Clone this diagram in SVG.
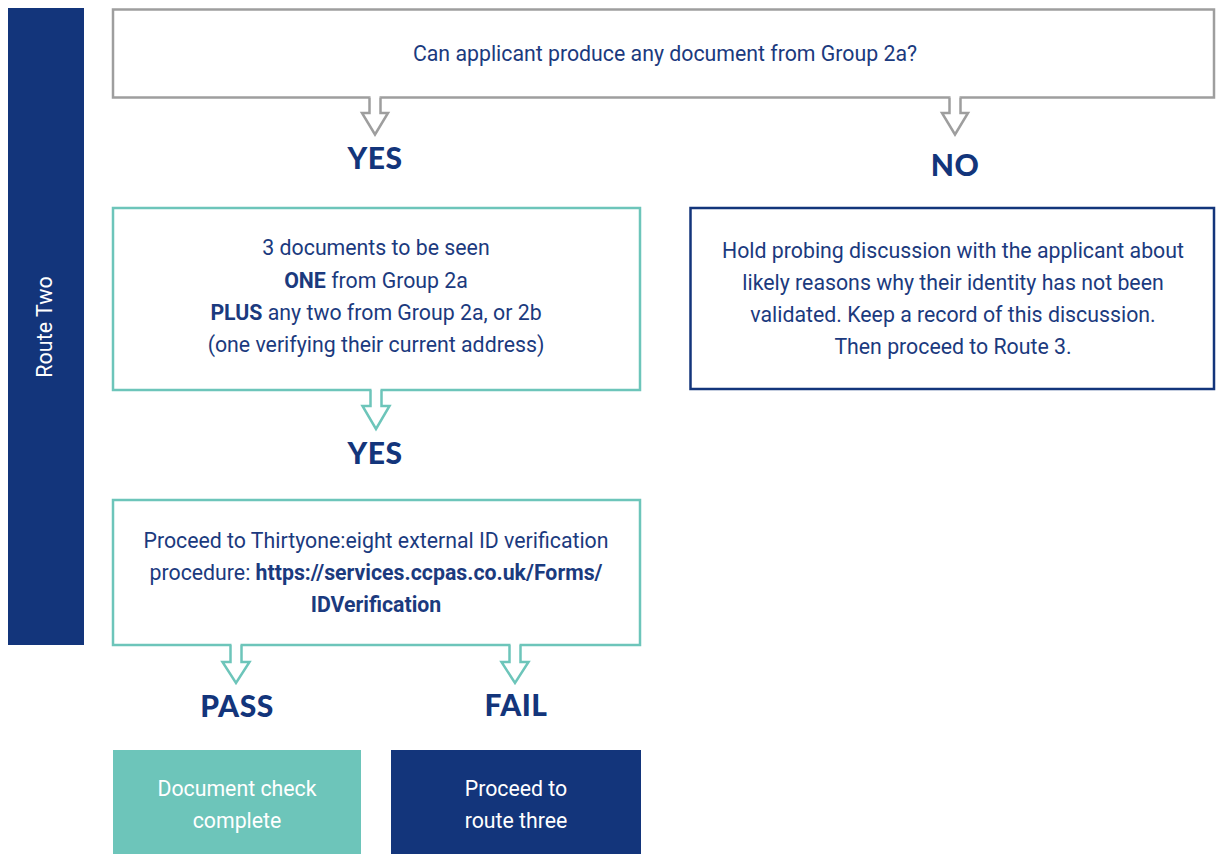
<svg xmlns="http://www.w3.org/2000/svg" width="1216" height="854" viewBox="0 0 1216 854">
<style>
.t{font-family:Roboto,"Liberation Sans",sans-serif;font-size:21.3px;fill:#1b3a7e;text-anchor:middle}
.b{font-weight:bold}
.w{fill:#ffffff}
.lbl{font-family:Lato,"Liberation Sans",sans-serif;font-weight:900;font-size:30px;letter-spacing:0.5px;fill:#13357b;text-anchor:middle}
.gray{fill:#ffffff;stroke:#9e9e9e;stroke-width:2.5}
.teal{fill:#ffffff;stroke:#6dc5ba;stroke-width:2.5}
.navy{fill:#ffffff;stroke:#13357b;stroke-width:2.5}
.ag{fill:#ffffff;stroke:#9e9e9e;stroke-width:2.5;stroke-linejoin:miter}
.at{fill:#ffffff;stroke:#6dc5ba;stroke-width:2.5;stroke-linejoin:miter}
</style>
<rect width="1216" height="854" fill="#ffffff"/>
<g id="route-bar">
<rect x="8" y="8" width="76" height="637" fill="#13357b"/>
<text class="t w" transform="translate(52,327) rotate(-90)" style="font-size:21.5px">Route Two</text>
</g>
<g id="q1">
<rect class="gray" x="113" y="9.5" width="1101" height="88"/>
<text class="t" x="665" y="61">Can applicant produce any document from Group 2a?</text>
</g>
<g id="yes-box">
<rect class="teal" x="113" y="208" width="527" height="182"/>
<text class="t" x="376" y="255">3 documents to be seen</text>
<text class="t" x="376" y="288"><tspan class="b">ONE</tspan> from Group 2a</text>
<text class="t" x="376" y="320"><tspan class="b">PLUS</tspan> any two from Group 2a, or 2b</text>
<text class="t" x="376" y="352">(one verifying their current address)</text>
</g>
<g id="no-box">
<rect class="navy" x="690.5" y="208" width="523.5" height="181"/>
<text class="t" x="953" y="258">Hold probing discussion with the applicant about</text>
<text class="t" x="953" y="290">likely reasons why their identity has not been</text>
<text class="t" x="953" y="322">validated. Keep a record of this discussion.</text>
<text class="t" x="953" y="354">Then proceed to Route 3.</text>
</g>
<g id="verify-box">
<rect class="teal" x="113" y="500" width="527" height="145"/>
<text class="t" x="376" y="548">Proceed to Thirtyone:eight external ID verification</text>
<text class="t" x="376" y="580">procedure: <tspan class="b">https://services.ccpas.co.uk/Forms/</tspan></text>
<text class="t b" x="376" y="612">IDVerification</text>
</g>
<g id="pass-box">
<rect x="113" y="750" width="248" height="104" fill="#6dc5ba"/>
<text class="t w" x="237" y="796">Document check</text>
<text class="t w" x="237" y="828">complete</text>
</g>
<g id="fail-box">
<rect x="391" y="750" width="250" height="104" fill="#13357b"/>
<text class="t w" x="516" y="796">Proceed to</text>
<text class="t w" x="516" y="828">route three</text>
</g>
<g id="labels">
<text class="lbl" x="375" y="169">YES</text>
<text class="lbl" x="955" y="176">NO</text>
<text class="lbl" x="375" y="464">YES</text>
<text class="lbl" x="237" y="717">PASS</text>
<text class="lbl" x="516" y="716">FAIL</text>
</g>
<g id="connectors">
<rect x="370.5" y="95" width="9" height="5" fill="#ffffff"/>
<path class="ag" d="M369.5,97.5 V113 H362 L375,134.5 L388,113 H380.5 V97.5"/>
<rect x="950.5" y="95" width="9" height="5" fill="#ffffff"/>
<path class="ag" d="M949.5,97.5 V113 H942 L955,134.5 L968,113 H960.5 V97.5"/>
<rect x="371.5" y="387" width="9" height="6" fill="#ffffff"/>
<path class="at" d="M370.5,390 V406 H362.5 L376,429 L389.5,406 H381.5 V390"/>
<rect x="231.5" y="642" width="9" height="6" fill="#ffffff"/>
<path class="at" d="M230.5,645 V662 H222.5 L236,683 L249.5,662 H241.5 V645"/>
<rect x="510.5" y="642" width="9" height="6" fill="#ffffff"/>
<path class="at" d="M509.5,645 V662 H501.5 L515,683 L528.5,662 H520.5 V645"/>
</g>
</svg>
